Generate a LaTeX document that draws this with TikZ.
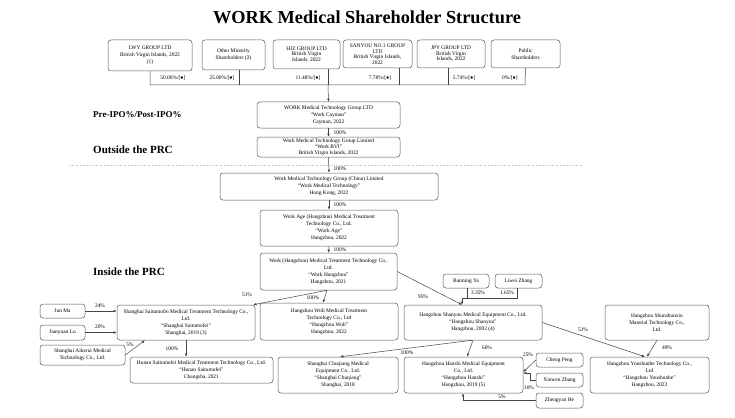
\documentclass[tikz,border=0pt]{standalone}
\usepackage{fontspec}
\setmainfont{Liberation Serif}
\usetikzlibrary{arrows.meta}
\definecolor{boxc}{HTML}{555555}
\definecolor{linec}{HTML}{444444}
\begin{document}
\begin{tikzpicture}[x=1pt,y=-1pt,
  bx/.style={draw=boxc, rounded corners=3pt, line width=0.5pt, align=center, inner sep=1pt, font=\fontsize{5.4}{7}\selectfont},
  ln/.style={draw=linec, line width=0.5pt},
  arr/.style={ln, -{Latex[length=3.2pt,width=2.6pt]}},
  pl/.style={font=\fontsize{5.4}{6}\selectfont, inner sep=0.5pt},
  sec/.style={font=\bfseries, anchor=west, inner sep=0pt}]
\useasboundingbox (0,0) rectangle (735,417);
\node[font=\fontsize{18.3}{20}\selectfont\bfseries] (title) at (367,17) {WORK Medical Shareholder Structure};
% top row
\node[bx, minimum width=84pt, minimum height=31pt] (lwy) at (150,55.5) {LWY GROUP LTD\\British Virgin Islands, 2022\\(1)};
\node[bx, minimum width=63pt, minimum height=30pt] (oth) at (233.5,55) {Other Minority\\Shareholders (2)};
\node[bx, minimum width=67pt, minimum height=29pt] (hjz) at (306.5,54.5) {HJZ GROUP LTD\\[-1.5pt]British Virgin\\[-1.5pt]Islands, 2022};
\node[bx, minimum width=69pt, minimum height=28pt] (sny) at (377.5,54) {SANYOU NO.1 GROUP\\[-1.5pt]LTD\\[-1.5pt]British Virgin Islands,\\[-1.5pt]2022};
\node[bx, minimum width=68pt, minimum height=28pt] (jpy) at (451,54) {JPY GROUP LTD\\[-1.5pt]British Virgin\\[-1.5pt]Islands, 2022};
\node[bx, minimum width=69pt, minimum height=28pt] (pub) at (525.5,54) {Public\\Shareholders};
\coordinate (busL) at (150,85);
\coordinate (busR) at (525,85);
\draw[ln] (lwy.south) -- (busL) -- (busR) -- (pub.south);
\draw[ln] ([xshift=5.5pt]oth.south) -- ([xshift=5.5pt]oth.south |- busL);
\draw[ln] ([xshift=21.5pt]sny.south) -- ([xshift=21.5pt]sny.south |- busL);
\draw[ln] ([xshift=-3pt]jpy.south) -- ([xshift=-3pt]jpy.south |- busL);
\node[pl] (p1) at (173,78) {50.00\%/[●]};
\node[pl] (p2) at (222,78) {25.00\%/[●]};
\node[pl] (p3) at (308,78) {11.48\%/[●]};
\node[pl] (p4) at (380,78) {7.78\%/[●]};
\node[pl] (p5) at (464,78) {5.74\%/[●]};
\node[pl] (p6) at (510,78) {0\%/[●]};
% section labels
\node[sec, font=\fontsize{9}{10}\selectfont\bfseries] (s1) at (93,115) {Pre-IPO\%/Post-IPO\%};
\node[sec, font=\fontsize{11}{12}\selectfont\bfseries] (s2) at (93,150) {Outside the PRC};
\node[sec, font=\fontsize{11}{12}\selectfont\bfseries] (s3) at (93,272) {Inside the PRC};
\draw[gray!60, line width=0.4pt, dotted] (70,165) -- (582,165);
% main chain
\node[bx, minimum width=143pt, minimum height=26pt] (cay) at (328.5,115) {WORK Medical Technology Group LTD\\“Work Cayman”\\Cayman, 2022};
\draw[ln] ([xshift=21.5pt]hjz.south) -- ([xshift=21.5pt]hjz.south |- busL);
\draw[arr] ([xshift=21.5pt]hjz.south |- busL) -- (cay.north);
\node[bx, minimum width=143pt, minimum height=20pt] (bvi) at (328.5,147) {Work Medical Technology Group Limited\\[-1pt]“Work BVI”\\[-1pt]British Virgin Islands, 2022};
\node[bx, minimum width=218pt, minimum height=27pt] (hk) at (329,186.5) {Work Medical Technology Group (China) Limited\\“Work Medical Technology”\\Hong Kong, 2022};
\node[bx, minimum width=138pt, minimum height=36pt] (age) at (329,228) {Work Age (Hangzhou) Medical Treatment\\Technology Co., Ltd.\\“Work Age”\\Hangzhou, 2022};
\node[bx, minimum width=137pt, minimum height=37pt] (whz) at (328.5,271.5) {Work (Hangzhou) Medical Treatment Technology Co.,\\Ltd.\\“Work Hangzhou”\\Hangzhou, 2021};
\draw[arr] (cay.south) -- (bvi.north);
\draw[arr] (bvi.south) -- (hk.north);
\draw[arr] (hk.south) -- (age.north);
\draw[arr] (age.south) -- (whz.north);
\node[pl] (q1) at (340,133) {100\%};
\node[pl] (q2) at (340,169) {100\%};
\node[pl] (q3) at (340,205) {100\%};
\node[pl] (q4) at (340,250) {100\%};
% second row
\node[bx, minimum width=138pt, minimum height=35pt] (stm) at (186,322.5) {Shanghai Saitumofei Medical Treatment Technology Co.,\\Ltd.\\“Shanghai Saitumofei”\\Shanghai, 2019 (3)};
\node[bx, minimum width=45pt, minimum height=14pt] (jun) at (62.5,311) {Jun Ma};
\node[bx, minimum width=45pt, minimum height=15pt] (jia) at (62.5,332.5) {Jianyuan Lu};
\node[bx, minimum width=85pt, minimum height=20pt] (aik) at (82.5,355) {Shanghai Aikerui Medical\\Technology Co., Ltd.};
\node[bx, minimum width=138pt, minimum height=37pt] (woli) at (329,321.5) {Hangzhou Woli Medical Treatment\\Technology Co., Ltd\\“Hangzhou Woli”\\Hangzhou, 2022};
\node[bx, minimum width=138pt, minimum height=35pt] (shy) at (473,322.5) {Hangzhou Shanyou Medical Equipment Co., Ltd.\\“Hangzhou Shanyou”\\Hangzhou, 2002 (4)};
\node[bx, minimum width=46pt, minimum height=14pt] (bai) at (466,281) {Baiming Ya};
\node[bx, minimum width=47pt, minimum height=14pt] (liw) at (518.5,281) {Liwei Zhang};
\node[bx, minimum width=104pt, minimum height=35pt] (shx) at (657,322.5) {Hangzhou Shunshunxin\\Material Technology Co.,\\Ltd.};
% third row
\node[bx, minimum width=143pt, minimum height=26pt] (hun) at (201.5,370) {Hunan Saitumofei Medical Treatment Technology Co., Ltd.\\“Hunan Saitumofei”\\Changsha, 2021};
\node[bx, minimum width=120pt, minimum height=36pt] (chq) at (338,375) {Shanghai Chuqiang Medical\\Equipment Co., Ltd.\\“Shanghai Chuqiang”\\Shanghai, 2018};
\node[bx, minimum width=119pt, minimum height=36pt] (han) at (463.5,375) {Hangzhou Hanshi Medical Equipment\\Co., Ltd.\\“Hangzhou Hanshi”\\Hangzhou, 2019 (5)};
\node[bx, minimum width=119pt, minimum height=36pt] (ysh) at (649.5,375) {Hangzhou Youshunhe Technology Co.,\\Ltd\\“Hangzhou Youshunhe”\\Hangzhou, 2023};
\node[bx, minimum width=47pt, minimum height=14pt] (chp) at (559.5,360) {Cheng Peng};
\node[bx, minimum width=47pt, minimum height=14pt] (xwz) at (559.5,380) {Xinwen Zhang};
\node[bx, minimum width=47pt, minimum height=15pt] (zyh) at (559.5,400.5) {Zhengyan He};
% edges second row
\draw[arr] ([xshift=-1.5pt]whz.south) -- ([xshift=-2pt]stm.north east);
\draw[arr] ([xshift=-1.5pt]whz.south) -- ([xshift=-6pt]woli.north);
\draw[arr] (whz.east) -- ([xshift=-11pt]shy.north);
\node[pl] (r1) at (247,295) {51\%};
\node[pl] (r2) at (313,298) {100\%};
\node[pl] (r3) at (423,297) {95\%};
\coordinate (brk) at (462,298);
\draw[ln] ([xshift=1pt]bai.south) -- ([xshift=1pt]bai.south |- brk);
\draw[ln] (brk) -| ([xshift=-1.5pt]liw.south);
\draw[arr] (brk) -- ([xshift=-11pt]shy.north);
\node[pl] (r4) at (478,293) {3.35\%};
\node[pl] (r5) at (507,293) {1.65\%};
\draw[arr] (jun.east) -- (jun.east -| stm.west);
\draw[arr] (jia.east) -- (jia.east -| stm.west);
\draw[arr] (aik.east) -- ([xshift=-41pt]stm.south);
\node[pl] (r6) at (100,306) {24\%};
\node[pl] (r7) at (100,327) {20\%};
\node[pl] (r8) at (130,345) {5\%};
% edges third row
\draw[arr] (stm.south) -- (stm.south |- hun.north);
\node[pl] (t1) at (172,349) {100\%};
\draw[arr] ([xshift=-1pt]shy.south) -- ([xshift=2pt]chq.north);
\node[pl] (t2) at (407,353) {100\%};
\draw[arr] (shy.south) -- ([xshift=3.5pt]han.north);
\node[pl] (t3) at (487,348) {60\%};
\draw[arr] (shy.east) -- ([xshift=-4.5pt]ysh.north);
\node[pl] (t4) at (583,330) {51\%};
\draw[arr] (shx.south) -- ([xshift=-2.5pt]ysh.north);
\node[pl] (t5) at (667,348) {49\%};
\draw[arr] (chp.west) -- ([yshift=3pt]han.east);
\node[pl] (t6) at (528,355) {25\%};
\coordinate (xw) at (530,380);
\draw[arr] (xwz.west) -- (xw) |- ([yshift=2pt]han.east);
\node[pl] (t7) at (529,388) {10\%};
\draw[arr] (zyh.west) -| ([xshift=-0.5pt]han.south);
\node[pl] (t8) at (502,397) {5\%};
\end{tikzpicture}
\end{document}
